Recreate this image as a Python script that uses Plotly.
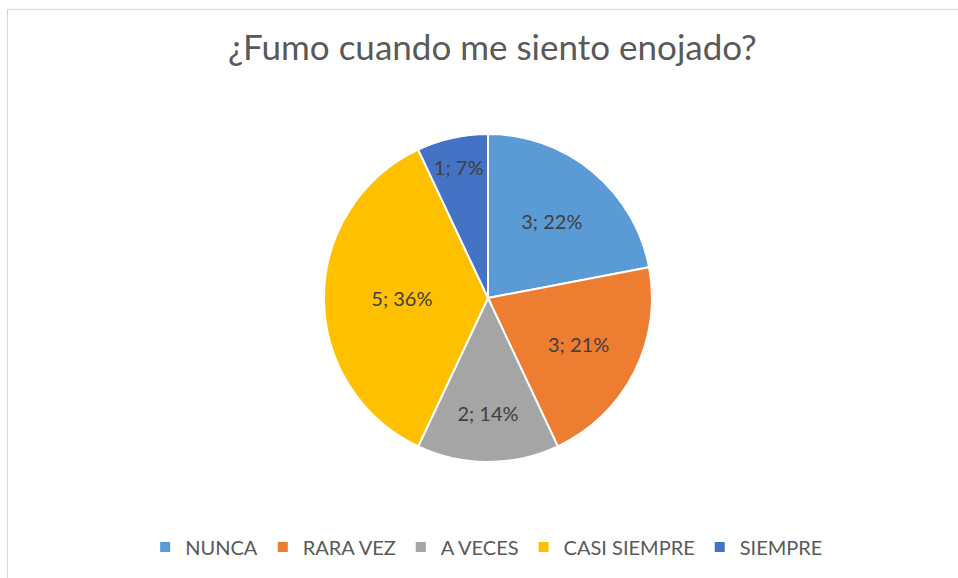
import plotly.graph_objects as go

categories = ["NUNCA", "RARA VEZ", "A VECES", "CASI SIEMPRE", "SIEMPRE"]
counts = [3, 3, 2, 5, 1]
percents = [22, 21, 14, 36, 7]
colors = ["#5B9BD5", "#ED7D31", "#A5A5A5", "#FFC000", "#4472C4"]

labels_text = [f"{c}; {p}%" for c, p in zip(counts, percents)]

W, H = 958, 578
cx, cy, R = 488, 298, 164
FONT = "Lato, Carlito, sans-serif"

fig = go.Figure(go.Pie(
    labels=categories,
    values=percents,
    text=labels_text,
    textinfo="text",
    textposition="inside",
    insidetextorientation="horizontal",
    sort=False,
    direction="clockwise",
    rotation=0,
    marker=dict(colors=colors, line=dict(color="white", width=2)),
    textfont=dict(family=FONT, size=20, color="#404040"),
    domain=dict(x=[(cx - R) / W, (cx + R) / W], y=[(H - cy - R) / H, (H - cy + R) / H]),
    hoverinfo="label+text",
))

fig.update_layout(
    width=W, height=H,
    margin=dict(l=0, r=0, t=0, b=0),
    paper_bgcolor="white",
    plot_bgcolor="white",
    title=dict(text="¿Fumo cuando me siento enojado?", x=0.514, xanchor="center",
               y=1 - 48 / H, yanchor="middle",
               font=dict(family=FONT, size=35, color="#595959")),
    legend=dict(orientation="h", x=0.508, xanchor="center", y=1 - 547 / H, yanchor="middle",
                font=dict(family=FONT, size=20, color="#595959"),
                itemwidth=30, traceorder="normal"),
    shapes=[dict(type="rect", xref="paper", yref="paper",
                 x0=7.5 / W, x1=1.02, y0=-0.02, y1=1 - 9.5 / H,
                 line=dict(color="#D9D9D9", width=1.2), fillcolor="rgba(0,0,0,0)")],
)

fig.write_html("out.html", config={"displayModeBar": False},
               post_script="document.body.style.margin='0';")
